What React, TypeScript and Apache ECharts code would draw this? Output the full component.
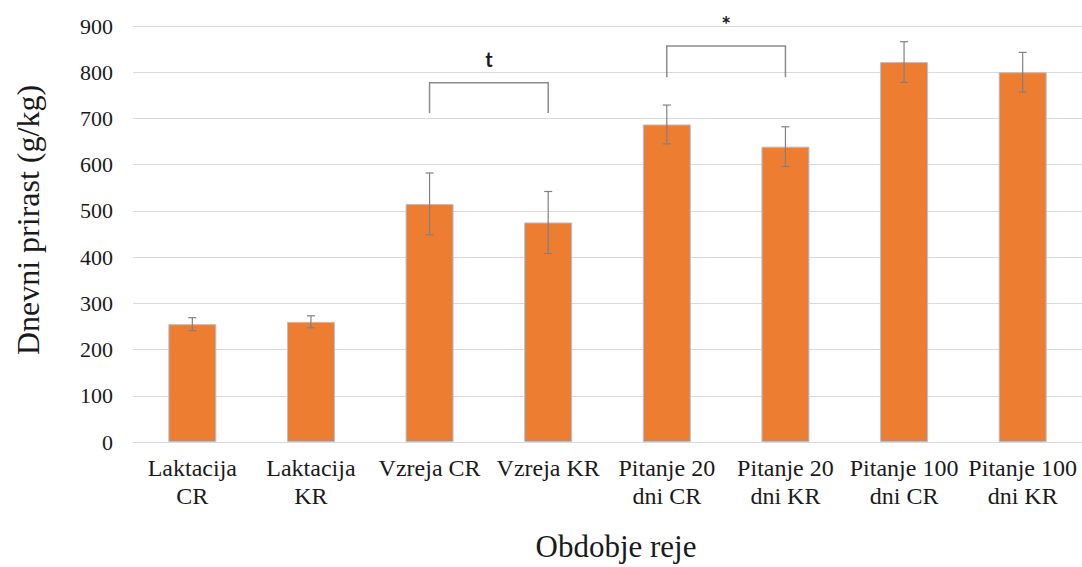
import React, { useEffect, useRef } from "react";
import * as echarts from "echarts";

// Daily weight gain by rearing period
const categories = [
  "Laktacija\nCR",
  "Laktacija\nKR",
  "Vzreja CR",
  "Vzreja KR",
  "Pitanje 20\ndni CR",
  "Pitanje 20\ndni KR",
  "Pitanje 100\ndni CR",
  "Pitanje 100\ndni KR",
];
const means = [255, 260, 515, 475, 687, 639, 822, 800];
const errors = [14, 13, 67, 67, 42, 43, 44, 43];

// Significance brackets: [fromIndex, toIndex, legBottom, barTop, label]
const brackets: [number, number, number, number, string][] = [
  [2, 3, 712, 777, "t"],
  [4, 5, 789, 857, "*"],
];

const yTicks = { min: 0, max: 900, interval: 100 };

const yTitle = "Dnevni prirast (g/kg)";
const xTitle = "Obdobje reje";

const SERIF = "Liberation Serif";
const INK = "#1a1a1a";

export default function App() {
  const ref = useRef<HTMLDivElement>(null);

  useEffect(() => {
    if (!ref.current) return;
    const chart = echarts.init(ref.current, null, { renderer: "svg" });

    const errorData = means.map((m, i) => [i, m - errors[i], m + errors[i]]);

    chart.setOption({
      animation: false,
      backgroundColor: "#ffffff",
      grid: {
        left: 133,
        right: 0,
        top: 26,
        bottom: 125,
        containLabel: false,
        outerBoundsMode: "none",
      },
      graphic: [
        {
          type: "text",
          x: 28,
          y: 220,
          rotation: Math.PI / 2,
          style: {
            text: yTitle,
            fontFamily: SERIF,
            fontSize: 32,
            fill: INK,
            align: "center",
            verticalAlign: "middle",
          },
        },
        {
          type: "text",
          x: 616,
          y: 546,
          style: {
            text: xTitle,
            fontFamily: SERIF,
            fontSize: 31,
            fill: INK,
            align: "center",
            verticalAlign: "middle",
          },
        },
      ],
      xAxis: {
        type: "category",
        data: categories,
        axisTick: { show: false },
        axisLine: { lineStyle: { color: "#d9d9d9", width: 1 } },
        axisLabel: {
          fontFamily: SERIF,
          fontSize: 24,
          color: INK,
          lineHeight: 28,
          margin: 12,
          interval: 0,
          hideOverlap: false,
        },
      },
      yAxis: {
        type: "value",
        min: yTicks.min,
        max: yTicks.max,
        interval: yTicks.interval,
        axisLine: { show: false },
        axisTick: { show: false },
        axisLabel: {
          fontFamily: SERIF,
          fontSize: 22,
          color: INK,
          margin: 20,
        },
        splitLine: { lineStyle: { color: "#d9d9d9", width: 1 } },
      },
      series: [
        {
          type: "bar",
          data: means,
          barWidth: 48,
          itemStyle: {
            color: "#ED7D31",
            borderColor: "#a9c4e2",
            borderWidth: 1,
          },
          z: 2,
        },
        {
          type: "custom",
          data: errorData,
          z: 3,
          renderItem: (params: any, api: any) => {
            const x = api.value(0);
            const lo = api.coord([x, api.value(1)]);
            const hi = api.coord([x, api.value(2)]);
            const cap = 4;
            const style = { stroke: "#808080", lineWidth: 1.2 };
            return {
              type: "group",
              children: [
                { type: "line", shape: { x1: hi[0], y1: hi[1], x2: lo[0], y2: lo[1] }, style },
                { type: "line", shape: { x1: hi[0] - cap, y1: hi[1], x2: hi[0] + cap, y2: hi[1] }, style },
                { type: "line", shape: { x1: lo[0] - cap, y1: lo[1], x2: lo[0] + cap, y2: lo[1] }, style },
              ],
            };
          },
        },
        {
          type: "custom",
          data: brackets.map((b) => [b[0], b[1], b[2], b[3]]),
          clip: false,
          z: 4,
          renderItem: (params: any, api: any) => {
            const b = brackets[params.dataIndex];
            const a0 = api.coord([b[0], b[2]]);
            const a1 = api.coord([b[0], b[3]]);
            const c1 = api.coord([b[1], b[3]]);
            const c0 = api.coord([b[1], b[2]]);
            const star = b[4] === "*";
            return {
              type: "group",
              children: [
                {
                  type: "polyline",
                  shape: { points: [a0, a1, c1, c0] },
                  style: { stroke: "#8c8c8c", lineWidth: 1.5, fill: "none" },
                },
                {
                  type: "text",
                  x: (a1[0] + c1[0]) / 2,
                  y: a1[1] - (star ? 22 : 24),
                  style: {
                    text: b[4],
                    fontFamily: "Lato",
                    fontSize: star ? 23 : 20,
                    fontWeight: "bold",
                    fill: INK,
                    align: "center",
                    verticalAlign: "middle",
                  },
                },
              ],
            };
          },
        },
      ],
    });

    return () => chart.dispose();
  }, []);

  return (
    <div
      ref={ref}
      style={{ position: "fixed", left: 0, top: 0, width: 1082, height: 567 }}
    />
  );
}
